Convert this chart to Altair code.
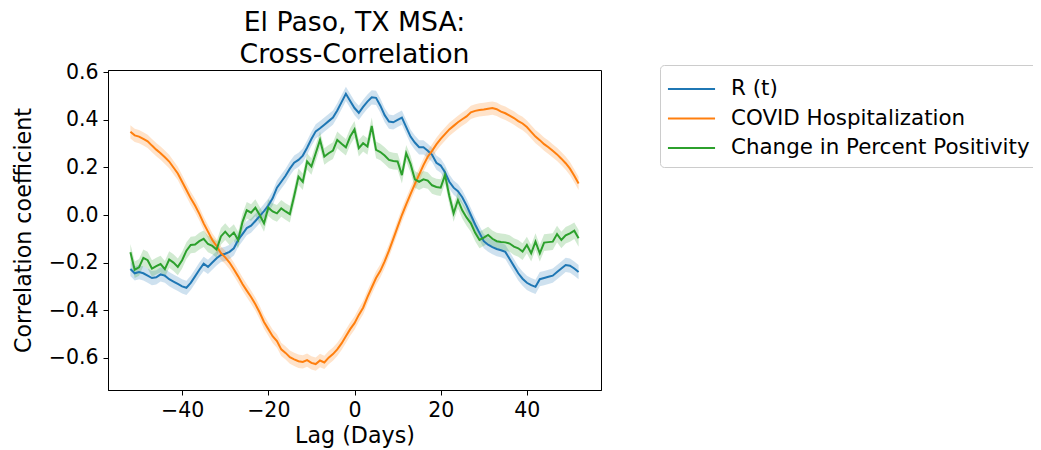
import altair as alt
import pandas as pd

lags = list(range(-52, 53))

r_t = [-0.227, -0.245, -0.24, -0.245, -0.255, -0.265, -0.262, -0.25, -0.255, -0.27,
       -0.28, -0.29, -0.3, -0.306, -0.285, -0.258, -0.23, -0.205, -0.218, -0.2,
       -0.182, -0.168, -0.163, -0.155, -0.14, -0.105, -0.08, -0.055, -0.045, -0.025,
       -0.005, 0.016, 0.04, 0.07, 0.115, 0.14, 0.165, 0.195, 0.22, 0.232,
       0.25, 0.283, 0.32, 0.352, 0.365, 0.38, 0.395, 0.41, 0.44, 0.475,
       0.51, 0.48, 0.45,
       0.43, 0.455, 0.477, 0.495, 0.493, 0.46, 0.42, 0.393, 0.39, 0.4,
       0.41, 0.37, 0.33, 0.305, 0.285, 0.285, 0.27, 0.253, 0.22, 0.208,
       0.18, 0.14, 0.115, 0.1, 0.075, 0.04, 0.0, -0.04, -0.075, -0.11,
       -0.125, -0.135, -0.143, -0.148, -0.155, -0.185, -0.215, -0.245, -0.268, -0.285,
       -0.295, -0.302, -0.27, -0.265, -0.26, -0.255, -0.24, -0.225, -0.21, -0.213,
       -0.225, -0.24]

hosp = [0.35, 0.335, 0.33, 0.32, 0.31, 0.292, 0.275, 0.26, 0.243, 0.225,
        0.2, 0.175, 0.14, 0.105, 0.07, 0.04, 0.005, -0.035, -0.07, -0.105,
        -0.13, -0.16, -0.178, -0.2, -0.228, -0.258, -0.29, -0.318, -0.345, -0.375,
        -0.41, -0.45, -0.48, -0.51, -0.53, -0.565, -0.58, -0.598, -0.607, -0.615,
        -0.618, -0.61, -0.622, -0.627, -0.612, -0.62, -0.6, -0.585, -0.565, -0.54,
        -0.51, -0.48, -0.455,
        -0.42, -0.39, -0.345, -0.305, -0.265, -0.235, -0.195, -0.15, -0.1, -0.05,
        0.0, 0.045, 0.088, 0.13, 0.17, 0.21, 0.245, 0.27, 0.297, 0.32,
        0.34, 0.36, 0.375, 0.39, 0.403, 0.415, 0.432, 0.438, 0.442, 0.444,
        0.447, 0.45, 0.445, 0.435, 0.428, 0.418, 0.408, 0.395, 0.385, 0.37,
        0.35, 0.33, 0.315, 0.298, 0.285, 0.27, 0.255, 0.237, 0.218, 0.195,
        0.165, 0.133]

pos = [-0.157, -0.23, -0.22, -0.18, -0.19, -0.225, -0.215, -0.206, -0.228, -0.187,
       -0.2, -0.218, -0.19, -0.15, -0.126, -0.124, -0.11, -0.1, -0.122, -0.13,
       -0.145, -0.09, -0.07, -0.091, -0.074, -0.105, -0.03, 0.02, 0.01, 0.031,
       0.0, -0.035, 0.031, 0.015, 0.007, 0.028, 0.015, 0.004, 0.08, 0.161,
       0.14, 0.225, 0.204, 0.26, 0.316, 0.246, 0.26, 0.271, 0.316, 0.3,
       0.285, 0.33, 0.36,
       0.281, 0.302, 0.288, 0.375, 0.274, 0.265, 0.25, 0.232, 0.227, 0.225,
       0.168, 0.26, 0.215, 0.15, 0.14, 0.15, 0.145, 0.125, 0.118, 0.115,
       0.168, 0.08, 0.007, 0.063, 0.02, -0.01, -0.035, -0.075, -0.105, -0.095,
       -0.084, -0.1, -0.11, -0.113, -0.115, -0.12, -0.133, -0.14, -0.154, -0.126,
       -0.161, -0.112, -0.161, -0.116, -0.114, -0.112, -0.08, -0.105, -0.085, -0.077,
       -0.066, -0.098]

series_names = ["R (t)", "COVID Hospitalization", "Change in Percent Positivity"]
series_colors = ["#1f77b4", "#ff7f0e", "#2ca02c"]
band_halfwidth = [0.03, 0.028, 0.035]

assert len(r_t) == len(lags) and len(hosp) == len(lags) and len(pos) == len(lags)

rows = []
for name, vals, hw in zip(series_names, [r_t, hosp, pos], band_halfwidth):
    for lag, v in zip(lags, vals):
        rows.append({"lag": lag, "value": v, "lo": v - hw, "hi": v + hw, "series": name})
df = pd.DataFrame(rows)

FONT = "DejaVu Sans"
FS = 22.2
TFS = 20.5
LFS = 21.4

xscale = alt.Scale(domain=[-57.2, 57.2], nice=False, zero=False)
yscale = alt.Scale(domain=[-0.736, 0.61], nice=False, zero=False)
cscale = alt.Scale(domain=series_names, range=series_colors)

xaxis = alt.Axis(values=[-40, -20, 0, 20, 40], format="d", title="Lag (Days)",
                 labelFontSize=TFS, titleFontSize=FS, labelFont=FONT, titleFont=FONT,
                 labelColor="black", titleColor="black", titleFontWeight="normal",
                 tickColor="black", domainColor="black", tickSize=5, labelPadding=5,
                 titlePadding=4, grid=False, labelFlush=False)
yaxis = alt.Axis(values=[-0.6, -0.4, -0.2, 0.0, 0.2, 0.4, 0.6], format=".1f",
                 title="Correlation coefficient",
                 labelFontSize=TFS, titleFontSize=FS, labelFont=FONT, titleFont=FONT,
                 labelColor="black", titleColor="black", titleFontWeight="normal",
                 tickColor="black", domainColor="black", tickSize=5, labelPadding=5,
                 titlePadding=13, grid=False, labelFlush=False)

base = alt.Chart(df)

bands = base.mark_area(opacity=0.22).encode(
    x=alt.X("lag:Q", scale=xscale, axis=xaxis),
    y=alt.Y("lo:Q", scale=yscale, axis=yaxis),
    y2="hi:Q",
    color=alt.Color("series:N", scale=cscale, legend=None),
)

lines = base.mark_line(strokeWidth=2).encode(
    x=alt.X("lag:Q", scale=xscale),
    y=alt.Y("value:Q", scale=yscale),
    color=alt.Color("series:N", scale=cscale,
                    legend=alt.Legend(title=None, orient="none", legendX=552, legendY=-5,
                                      symbolType="M-1.07,0H2.07", symbolSize=900,
                                      symbolStrokeWidth=2, labelOffset=31,
                                      labelFontSize=LFS, labelFont=FONT, labelColor="black",
                                      padding=8, strokeColor="#cccccc", cornerRadius=4,
                                      fillColor="white", rowPadding=2.5, labelLimit=500)),
)

chart = alt.layer(bands, lines).resolve_legend(color="independent").properties(
    width=493, height=320,
    title=alt.TitleParams(["El Paso, TX MSA:", "Cross-Correlation"], fontSize=26.7,
                          font=FONT, fontWeight="normal", color="black", anchor="middle",
                          lineHeight=32, offset=8, dy=14),
    autosize=alt.AutoSizeParams(type="none"),
    padding={"left": 100, "top": 62, "right": 432, "bottom": 60},
).configure_view(stroke="black", strokeWidth=1)

chart.save("out.html", embed_options={"renderer": "svg", "actions": False})
